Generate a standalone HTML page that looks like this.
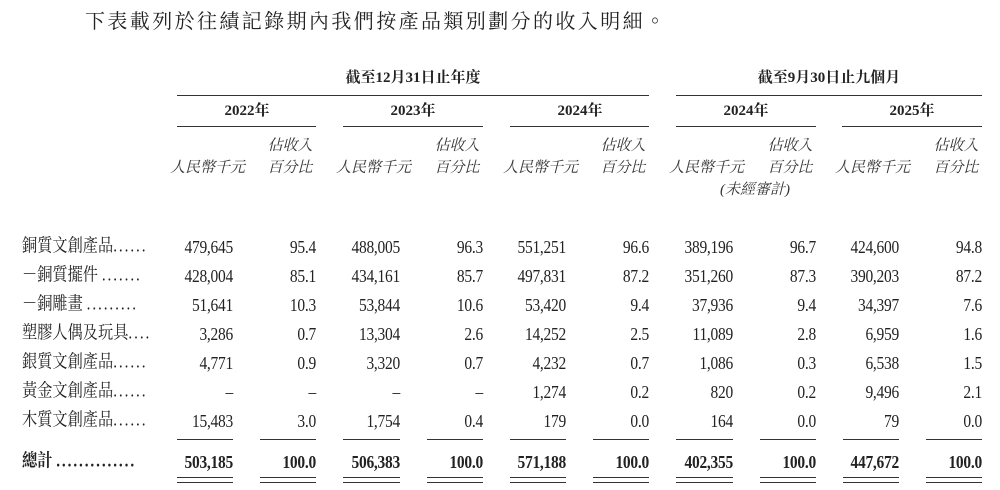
<!DOCTYPE html>
<html><head><meta charset="utf-8"><style>
body{margin:0;width:1000px;height:490px;background:#fff;position:relative;overflow:hidden;font-family:"Liberation Serif","Noto Serif CJK TC","Noto Serif CJK SC",serif;color:#222}
.t{position:absolute;white-space:nowrap;line-height:20px}
.n{position:absolute;white-space:nowrap;line-height:22px;font-size:18px;text-align:right;width:90px;letter-spacing:-0.3px;transform:scaleX(0.86);transform-origin:right center}
.b{font-weight:bold}
.l{position:absolute;height:1.3px;background:#333}
.h{position:absolute;font-size:15px;font-style:italic;line-height:22px;text-align:center;white-space:nowrap;color:#333}
.lab{position:absolute;left:22px;font-size:16px;line-height:22px;white-space:nowrap;transform:scale(0.95,1.12);transform-origin:left center}
.d{letter-spacing:2px}
</style></head><body>
<div class="t" style="left:85px;top:10px;font-size:20px;letter-spacing:2.4px;font-family:'Noto Serif CJK TC','Noto Serif CJK SC',serif">下表載列於往績記錄期內我們按產品類別劃分的收入明細。</div>

<div class="t b" style="left:343px;width:140px;top:68px;font-size:15px;text-align:center">截至12月31日止年度</div>
<div class="t b" style="left:676px;width:306px;top:68px;font-size:15px;text-align:center">截至9月30日止九個月</div>
<div class="l" style="left:177px;width:472px;top:95px"></div>
<div class="l" style="left:676px;width:306px;top:95px"></div>

<div class="t b" style="left:177px;width:140px;top:101px;font-size:15px;text-align:center">2022年</div>
<div class="t b" style="left:343px;width:140px;top:101px;font-size:15px;text-align:center">2023年</div>
<div class="t b" style="left:510px;width:140px;top:101px;font-size:15px;text-align:center">2024年</div>
<div class="t b" style="left:676px;width:140px;top:101px;font-size:15px;text-align:center">2024年</div>
<div class="t b" style="left:842px;width:140px;top:101px;font-size:15px;text-align:center">2025年</div>
<div class="l" style="left:177px;width:139px;top:126px"></div>
<div class="l" style="left:343px;width:140px;top:126px"></div>
<div class="l" style="left:510px;width:139px;top:126px"></div>
<div class="l" style="left:676px;width:140px;top:126px"></div>
<div class="l" style="left:842px;width:140px;top:126px"></div>

<div class="h" style="left:170px;width:70px;top:157px">人民幣千元</div>
<div class="h" style="left:262px;width:56px;top:135px">佔收入<br>百分比</div>
<div class="h" style="left:336px;width:70px;top:157px">人民幣千元</div>
<div class="h" style="left:429px;width:56px;top:135px">佔收入<br>百分比</div>
<div class="h" style="left:503px;width:70px;top:157px">人民幣千元</div>
<div class="h" style="left:595px;width:56px;top:135px">佔收入<br>百分比</div>
<div class="h" style="left:669px;width:70px;top:157px">人民幣千元</div>
<div class="h" style="left:762px;width:56px;top:135px">佔收入<br>百分比</div>
<div class="h" style="left:835px;width:70px;top:157px">人民幣千元</div>
<div class="h" style="left:928px;width:56px;top:135px">佔收入<br>百分比</div>
<div class="h" style="left:705px;width:100px;top:179px">(未經審計)</div>

<div id="rows"></div>
<script>
var rows=[
["銅質文創產品","......"],
["－銅質擺件 ","......."],
["－銅雕畫 ",".........",],
["塑膠人偶及玩具","...."],
["銀質文創產品","......"],
["黃金文創產品","......"],
["木質文創產品","......"],
["總計 ",".............."]
];
var vals=[
["479,645","95.4","488,005","96.3","551,251","96.6","389,196","96.7","424,600","94.8"],
["428,004","85.1","434,161","85.7","497,831","87.2","351,260","87.3","390,203","87.2"],
["51,641","10.3","53,844","10.6","53,420","9.4","37,936","9.4","34,397","7.6"],
["3,286","0.7","13,304","2.6","14,252","2.5","11,089","2.8","6,959","1.6"],
["4,771","0.9","3,320","0.7","4,232","0.7","1,086","0.3","6,538","1.5"],
["–","–","–","–","1,274","0.2","820","0.2","9,496","2.1"],
["15,483","3.0","1,754","0.4","179","0.0","164","0.0","79","0.0"],
["503,185","100.0","506,383","100.0","571,188","100.0","402,355","100.0","447,672","100.0"]
];
var R=[233,316,400,483,566,649,733,816,899,982];
var L=[177,260,343,427,510,593,676,760,843,926];
var h="";
rows.forEach(function(r,i){
 var c=247+i*29; if(i==7)c=462;
 var y=c-11;
 var bold=i==7?"font-weight:bold;":"";
 h+='<div class="lab" style="top:'+y+'px;'+bold+'">'+r[0]+'<span class="d">'+r[1]+'</span></div>';
 vals[i].forEach(function(v,j){
  h+='<div class="n" style="left:'+(R[j]-90)+'px;top:'+y+'px;'+bold+'">'+v+'</div>';
 });
});
for(var j=0;j<10;j++){
 var w=R[j]-L[j];
 h+='<div class="l" style="left:'+L[j]+'px;width:'+w+'px;top:439px"></div>';
 h+='<div class="l" style="left:'+L[j]+'px;width:'+w+'px;top:477px"></div>';
 h+='<div class="l" style="left:'+L[j]+'px;width:'+w+'px;top:482px"></div>';
}
document.getElementById("rows").innerHTML=h;
</script>
</body></html>
